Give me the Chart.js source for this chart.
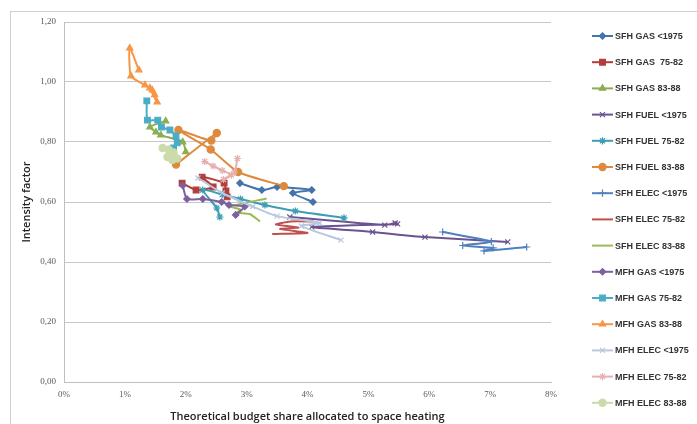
<!DOCTYPE html>
<html lang="en">
<head>
  <meta charset="UTF-8">
  <title>Intensity factor vs budget share</title>
  <script src="https://cdn.jsdelivr.net/npm/chart.js"></script>
  <style>
    body {
      margin: 0;
      background: #fff;
    }
    .wrap {
      position: relative;
      width: 697px;
      height: 424px;
    }
  </style>
</head>
<body>
  <div class="wrap">
    <canvas id="chart" width="697" height="424"></canvas>
  </div>

  <script>
    // series labels, in the order of the legend
    const seriesLabels = [
      "SFH GAS <1975", "SFH GAS  75-82", "SFH GAS 83-88",
      "SFH FUEL <1975", "SFH FUEL 75-82", "SFH FUEL 83-88",
      "SFH ELEC <1975", "SFH ELEC 75-82", "SFH ELEC 83-88",
      "MFH GAS <1975", "MFH GAS 75-82", "MFH GAS 83-88",
      "MFH ELEC <1975", "MFH ELEC 75-82", "MFH ELEC 83-88"
    ];

    // x = theoretical budget share (%), y = intensity factor
    const sfhGas1975X = [2.89, 3.25, 3.50, 4.07, 3.76, 4.09];
    const sfhGas1975Y = [0.663, 0.640, 0.650, 0.640, 0.630, 0.600];
    const sfhGas7582X = [1.94, 2.17, 2.45, 2.27, 2.63, 2.66, 2.68];
    const sfhGas7582Y = [0.663, 0.640, 0.650, 0.683, 0.663, 0.637, 0.617];
    const sfhGas8388X = [1.67, 1.41, 1.51, 1.59, 1.95, 2.00];
    const sfhGas8388Y = [0.870, 0.850, 0.833, 0.823, 0.800, 0.767];

    const sfhFuel1975X = [3.71, 5.27, 5.44, 5.48, 4.07, 5.07, 5.93, 7.29];
    const sfhFuel1975Y = [0.550, 0.523, 0.530, 0.527, 0.517, 0.500, 0.483, 0.467];
    const sfhFuel7582X = [2.56, 2.51, 2.28, 2.60, 2.90, 3.30, 3.80, 4.60];
    const sfhFuel7582Y = [0.550, 0.580, 0.640, 0.625, 0.610, 0.590, 0.570, 0.547];
    const sfhFuel8388X = [1.84, 2.51, 2.42, 1.88, 2.41, 2.86, 3.61];
    const sfhFuel8388Y = [0.725, 0.830, 0.805, 0.840, 0.775, 0.700, 0.653];

    const sfhElec1975X = [6.22, 7.02, 6.55, 7.05, 6.90, 7.60];
    const sfhElec1975Y = [0.500, 0.468, 0.455, 0.447, 0.437, 0.450];
    const sfhElec7582X = [3.42, 4.00, 3.55, 3.85, 3.48, 3.72, 4.10];
    const sfhElec7582Y = [0.493, 0.497, 0.510, 0.515, 0.525, 0.535, 0.535];
    const sfhElec8388X = [3.33, 2.73, 2.90, 2.85, 3.05, 3.22];
    const sfhElec8388Y = [0.612, 0.585, 0.575, 0.565, 0.560, 0.535];

    const mfhGas1975X = [1.95, 2.02, 2.28, 2.59, 2.71, 2.97, 2.82];
    const mfhGas1975Y = [0.655, 0.610, 0.610, 0.600, 0.590, 0.585, 0.557];
    const mfhGas7582X = [1.36, 1.37, 1.54, 1.60, 1.74, 1.84, 1.86, 1.80];
    const mfhGas7582Y = [0.937, 0.873, 0.873, 0.850, 0.840, 0.820, 0.797, 0.780];
    const mfhGas8388X = [1.23, 1.08, 1.10, 1.33, 1.45, 1.41, 1.53, 1.49];
    const mfhGas8388Y = [1.040, 1.113, 1.020, 0.990, 0.973, 0.980, 0.933, 0.957];

    const mfhElec1975X = [2.20, 2.60, 3.10, 3.50, 4.20, 3.90, 4.55];
    const mfhElec1975Y = [0.680, 0.630, 0.585, 0.553, 0.530, 0.520, 0.473];
    const mfhElec7582X = [2.31, 2.45, 2.60, 2.75, 2.62, 2.80, 2.85];
    const mfhElec7582Y = [0.735, 0.720, 0.705, 0.690, 0.675, 0.700, 0.745];
    const mfhElec8388X = [1.62, 1.72, 1.80, 1.70, 1.78, 1.86];
    const mfhElec8388Y = [0.780, 0.775, 0.765, 0.750, 0.740, 0.745];

    const xTicks = [0, 1, 2, 3, 4, 5, 6, 7, 8];
    const yTicks = [0, 0.2, 0.4, 0.6, 0.8, 1.0, 1.2];

    const seriesX = [sfhGas1975X, sfhGas7582X, sfhGas8388X, sfhFuel1975X, sfhFuel7582X, sfhFuel8388X,
      sfhElec1975X, sfhElec7582X, sfhElec8388X, mfhGas1975X, mfhGas7582X, mfhGas8388X,
      mfhElec1975X, mfhElec7582X, mfhElec8388X];
    const seriesY = [sfhGas1975Y, sfhGas7582Y, sfhGas8388Y, sfhFuel1975Y, sfhFuel7582Y, sfhFuel8388Y,
      sfhElec1975Y, sfhElec7582Y, sfhElec8388Y, mfhGas1975Y, mfhGas7582Y, mfhGas8388Y,
      mfhElec1975Y, mfhElec7582Y, mfhElec8388Y];

    // look of each series (colour, marker)
    const colors = ["#4573AC", "#B33C3C", "#8DAE4F", "#6B5391", "#3D9DB4", "#DE8A3E",
      "#4F81BD", "#C0504D", "#9BBB59", "#7D60A0", "#4BACC6", "#F79646",
      "#B9C8DE", "#E6B0AF", "#CCDBAA"];
    const markers = ["rectRot", "rect", "triangle", "crossRot", "star", "circle",
      "cross", false, false, "rectRot", "rect", "triangle",
      "crossRot", "star", "circle"];
    const markerSize = [3.2, 4, 3.6, 3.6, 3.6, 3.6, 3.6, 0, 0, 3.2, 4, 3.6, 3.6, 3.6, 3.6];

    const datasets = seriesLabels.map((label, i) => ({
      label: label,
      data: seriesX[i].map((x, j) => ({ x: x, y: seriesY[i][j] })),
      showLine: true,
      borderColor: colors[i],
      backgroundColor: colors[i],
      borderWidth: 2,
      tension: 0.2,
      pointStyle: markers[i],
      pointRadius: markerSize[i],
      pointBorderWidth: 1.2,
      order: -i
    }));

    // light frame round the whole chart, like the spreadsheet export
    const framePlugin = {
      id: "frame",
      beforeDraw(chart) {
        const ctx = chart.ctx;
        ctx.save();
        ctx.strokeStyle = "#d0d0d0";
        ctx.lineWidth = 1;
        ctx.strokeRect(10.5, 11.5, 700, 500);
        ctx.restore();
      }
    };

    // legend drawn by hand: short line with the marker in the middle
    const legendPlugin = {
      id: "sideLegend",
      afterDraw(chart) {
        const ctx = chart.ctx;
        ctx.save();
        chart.data.datasets.forEach((ds, i) => {
          const y = 36 + i * 26.2;
          ctx.strokeStyle = ds.borderColor;
          ctx.fillStyle = ds.backgroundColor;
          ctx.lineWidth = 2;
          ctx.beginPath();
          ctx.moveTo(592, y);
          ctx.lineTo(613, y);
          ctx.stroke();
          if (ds.pointStyle) {
            ctx.lineWidth = 1.2;
            Chart.helpers.drawPoint(ctx, {
              pointStyle: ds.pointStyle,
              radius: ds.pointRadius,
              rotation: 0,
              borderWidth: 1.2
            }, 602.5, y);
          }
          ctx.fillStyle = "#333";
          ctx.font = "bold 9px 'Liberation Sans', Arial, sans-serif";
          ctx.textBaseline = "middle";
          ctx.textAlign = "left";
          ctx.fillText(ds.label, 615, y + 0.5);
        });
        ctx.restore();
      }
    };

    const tickFont = { family: "'Liberation Serif', serif", size: 9 };
    const titleFont = { family: "'Open Sans', 'Liberation Sans', sans-serif", size: 11, weight: "600" };

    new Chart(document.getElementById("chart"), {
      type: "scatter",
      data: { datasets: datasets },
      plugins: [framePlugin, legendPlugin],
      options: {
        responsive: false,
        animation: false,
        layout: { padding: { left: 10, top: 22, right: 146, bottom: 0 } },
        plugins: {
          legend: { display: false },
          tooltip: { enabled: false }
        },
        scales: {
          x: {
            type: "linear",
            min: 0,
            max: 8,
            afterFit: s => { s.height = 42; },
            afterBuildTicks: s => { s.ticks = xTicks.map(v => ({ value: v })); },
            ticks: {
              font: tickFont,
              color: "#595959",
              padding: 7,
              callback: v => v + "%"
            },
            grid: { display: false, drawTicks: false },
            border: { color: "#bfbfbf" },
            title: {
              display: true,
              text: "Theoretical budget share allocated to space heating",
              font: titleFont,
              color: "#222",
              padding: { top: 0, bottom: 1 }
            }
          },
          y: {
            min: 0,
            max: 1.2,
            afterFit: s => { s.width = 54; },
            afterBuildTicks: s => { s.ticks = yTicks.map(v => ({ value: v })); },
            ticks: {
              font: tickFont,
              color: "#595959",
              padding: 8,
              callback: v => v.toFixed(2).replace(".", ",")
            },
            grid: { color: "#c8c8c8", drawTicks: false },
            border: { color: "#bfbfbf" },
            title: {
              display: true,
              text: "Intensity factor",
              font: titleFont,
              color: "#222",
              padding: { top: 10, bottom: 0 }
            }
          }
        }
      }
    });
  </script>
</body>
</html>
